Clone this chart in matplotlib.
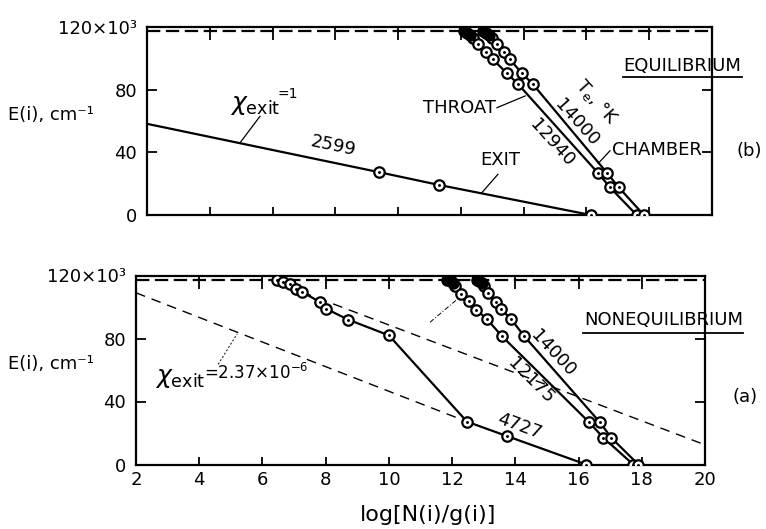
import matplotlib
matplotlib.use("Agg")
import matplotlib.pyplot as plt

plt.rcParams['font.family'] = ['DejaVu Sans']
plt.rcParams['mathtext.fontset'] = 'dejavusans'

# ---------------- data ----------------
x_ticks = [2, 4, 6, 8, 10, 12, 14, 16, 18, 20]
x_tick_labels = ['2', '4', '6', '8', '10', '12', '14', '16', '18', '20']
y_ticks = [0, 40, 80, 120]
y_tick_labels = ['0', '40', '80', '120×10³']
ionization_E = 117.3

# (b) equilibrium
exit_line_x = [2.0, 9.4, 11.3, 16.14]
exit_line_E = [58.2, 27.3, 19.2, 0.0]
exit_pts_x = [9.4, 11.3, 16.14]
exit_pts_E = [27.3, 19.2, 0.0]

throat_x = [12.1, 12.2, 12.3, 12.4, 12.54, 12.8, 13.02, 13.46, 13.82, 16.36, 16.75, 17.6]
throat_E = [117.3, 116.0, 114.6, 112.8, 109.4, 104.3, 99.3, 90.6, 83.6, 27.0, 17.6, 0.0]
chamber_x = [12.72, 12.8, 12.9, 13.0, 13.15, 13.37, 13.56, 13.94, 14.29, 16.65, 17.03, 17.83]
chamber_E = [117.3, 116.0, 114.6, 112.8, 109.4, 104.3, 99.3, 90.6, 83.6, 27.0, 17.6, 0.0]
n_dense_b = 3  # uppermost crowded levels (drawn as a dark blob)

# (a) nonequilibrium
t4727_x = [6.46, 6.65, 6.87, 7.06, 7.25, 7.82, 8.01, 8.71, 10.0, 12.47, 13.74, 16.24]
t4727_E = [117.0, 115.7, 114.5, 111.4, 109.5, 103.2, 98.9, 92.0, 82.0, 27.2, 18.0, 0.0]
t12175_x = [11.85, 11.95, 12.02, 12.09, 12.28, 12.54, 12.76, 13.11, 13.58, 16.34, 16.78, 17.73]
t12175_E = [117.3, 116.2, 115.0, 113.5, 108.5, 103.5, 98.4, 92.1, 81.4, 26.7, 17.1, 0.0]
t14000_x = [12.78, 12.86, 12.95, 13.02, 13.14, 13.39, 13.55, 13.87, 14.28, 16.68, 17.03, 17.89]
t14000_E = [117.3, 116.2, 115.0, 113.5, 108.7, 103.0, 98.6, 92.2, 81.5, 26.7, 17.1, 0.0]
n_dense_a = 3

dash_low_x = [2.0, 12.47]
dash_low_E = [109.0, 27.2]
dash_up_x = [7.25, 20.0]
dash_up_E = [109.5, 12.5]

# ---------------- figure ----------------
W, H = 766, 529
fig = plt.figure(figsize=(W / 100, H / 100), dpi=100)

def px_axes(l, r, b, t):
    return fig.add_axes([l / W, 1 - b / H, (r - l) / W, (b - t) / H])

ax_b = px_axes(147, 712, 215, 27)
ax_a = px_axes(136, 705, 464.5, 275.5)

FS = 13

def style(ax, show_xlabels):
    ax.set_xlim(2, 20)
    ax.set_ylim(0, 120)
    for s in ax.spines.values():
        s.set_linewidth(1.6)
    ax.set_xticks(x_ticks)
    ax.set_xticklabels(x_tick_labels if show_xlabels else [])
    ax.set_yticks(y_ticks)
    ax.set_yticklabels(y_tick_labels)
    ax.tick_params(axis='both', direction='in', width=1.3, labelsize=FS,
                   top=True, right=True)
    ax.tick_params(axis='x', length=6, pad=5)
    ax.tick_params(axis='y', length=7, pad=7)
    # longer ticks on top so they cross the dashed limit line
    for t in ax.xaxis.get_major_ticks():
        t.tick2line.set_markersize(9)
    ax.axhline(ionization_E, color='black', lw=1.6, ls=(0, (6, 2.5)), zorder=2)

def markers(ax, x, E, n_dense=0):
    ax.plot(x[n_dense:], E[n_dense:], 'o', ms=7.5, mfc='white', mec='black',
            mew=1.6, zorder=4)
    ax.plot(x[n_dense:], E[n_dense:], '.', ms=2.2, color='black', zorder=5)
    if n_dense:
        ax.plot(x[:n_dense], E[:n_dense], 'o', ms=8, mfc='black', mec='black',
                zorder=4)

style(ax_b, False)
style(ax_a, True)

# ---------- (b) equilibrium ----------
ax = ax_b
ax.plot(exit_line_x, exit_line_E, color='black', lw=1.6, zorder=3)
markers(ax, exit_pts_x, exit_pts_E)
ax.plot(throat_x, throat_E, color='black', lw=1.6, zorder=3)
ax.plot(chamber_x, chamber_E, color='black', lw=1.6, zorder=3)
markers(ax, throat_x, throat_E, n_dense_b)
markers(ax, chamber_x, chamber_E, n_dense_b)

ax.text(4.64, 70, r'$\chi_{\mathrm{exit}}$', fontsize=18, ha='left', va='center')
ax.text(6.15, 77, '=1', fontsize=10, ha='left', va='center')
ax.plot([5.6, 4.96], [63, 46], color='black', lw=0.9)
ax.text(7.92, 44, '2599', fontsize=FS, ha='center', va='center', rotation=-12)
ax.text(11.94, 68, 'THROAT', fontsize=FS, ha='center', va='center')
ax.plot([13.15, 14.05], [68.5, 76], color='black', lw=0.9)
ax.text(13.24, 35, 'EXIT', fontsize=FS, ha='center', va='center')
ax.plot([13.18, 12.67], [26, 14.3], color='black', lw=0.9)
ax.text(16.8, 41.8, 'CHAMBER', fontsize=FS, ha='left', va='center')
ax.plot([16.38, 16.75], [33, 41], color='black', lw=0.9)
ax.text(16.33, 72, r'T$_{\mathrm{e}}$, °K', fontsize=FS, ha='center', va='center',
        rotation=-48)
ax.text(15.69, 59, '14000', fontsize=FS, ha='center', va='center', rotation=-48)
ax.text(14.9, 46, '12940', fontsize=FS, ha='center', va='center', rotation=-48)
ax.text(19.04, 95, 'EQUILIBRIUM', fontsize=FS, ha='center', va='center', clip_on=False)
ax.plot([17.16, 20.95], [88.3, 88.3], color='black', lw=1.3, clip_on=False)
ax.text(21.2, 41, '(b)', fontsize=FS, ha='center', va='center', clip_on=False)

# ---------- (a) nonequilibrium ----------
ax = ax_a
ax.plot(dash_low_x, dash_low_E, color='black', lw=1.0, ls=(0, (7, 5)), zorder=2)
ax.plot(dash_up_x, dash_up_E, color='black', lw=1.0, ls=(0, (7, 5)), zorder=2)
ax.plot(t4727_x, t4727_E, color='black', lw=1.6, zorder=3)
ax.plot(t12175_x, t12175_E, color='black', lw=1.6, zorder=3)
ax.plot(t14000_x, t14000_E, color='black', lw=1.6, zorder=3)
markers(ax, t4727_x, t4727_E)
markers(ax, t12175_x, t12175_E, n_dense_a)
markers(ax, t14000_x, t14000_E, n_dense_a)

ax.text(2.6, 55, r'$\chi_{\mathrm{exit}}$', fontsize=18, ha='left', va='center')
ax.text(4.15, 58, '=2.37×10$^{-6}$', fontsize=12, ha='left', va='center')
ax.plot([4.6, 5.2], [63.6, 83], color='black', lw=0.7, ls=(0, (2, 2)))
ax.plot([11.3, 12.25], [90.3, 106.4], color='black', lw=0.7, ls=(0, (5, 2, 1, 2)))
ax.text(14.12, 24.4, '4727', fontsize=FS, ha='center', va='center', rotation=-20)
ax.text(14.5, 53, '12175', fontsize=FS, ha='center', va='center', rotation=-45)
ax.text(15.2, 70.3, '14000', fontsize=FS, ha='center', va='center', rotation=-47)
ax.text(18.68, 91.8, 'NONEQUILIBRIUM', fontsize=FS, ha='center', va='center', clip_on=False)
ax.plot([16.15, 21.2], [83.5, 83.5], color='black', lw=1.3, clip_on=False)
ax.text(21.27, 42.8, '(a)', fontsize=FS, ha='center', va='center', clip_on=False)

# axis labels
fig.text(8 / W, 1 - 115 / H, 'E(i), cm⁻¹', fontsize=FS, ha='left', va='center')
fig.text(8 / W, 1 - 364 / H, 'E(i), cm⁻¹', fontsize=FS, ha='left', va='center')
fig.text(428 / W, 1 - 515 / H, 'log[N(i)/g(i)]', fontsize=16, ha='center', va='center')

fig.savefig('out.png', dpi=100)
